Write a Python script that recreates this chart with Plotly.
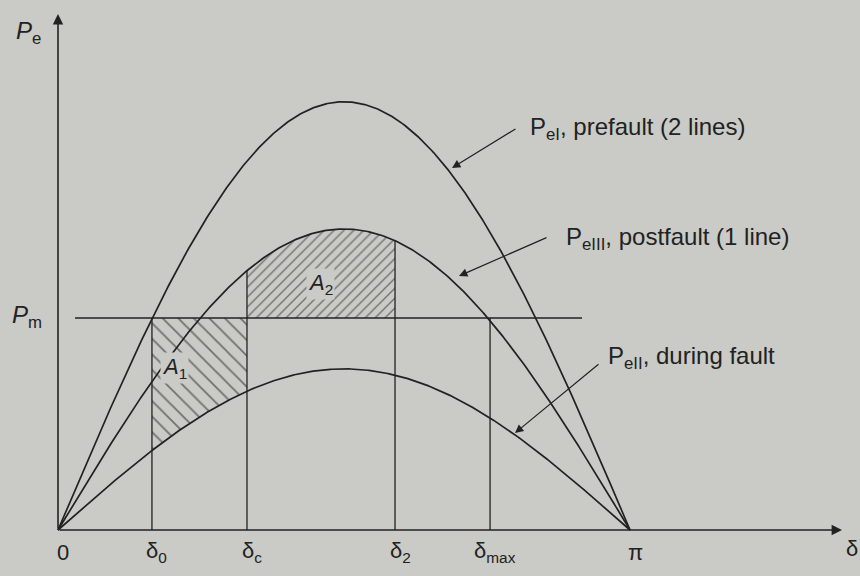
import numpy as np
import plotly.graph_objects as go

# Power-angle curves: P = Pmax * sin(delta)
curve_names = ["prefault", "postfault", "during fault"]
curve_pmax = [2.02, 1.42, 0.76]          # P_eI, P_eIII, P_eII (per unit of Pm)
p_mech = 1.0                              # mechanical input P_m

# Characteristic angles on the delta axis (rad)
tick_names = ["0", "δ<sub>0</sub>", "δ<sub>c</sub>", "δ<sub>2</sub>", "δ<sub>max</sub>", "π"]
tick_values = [0.0, 0.516, 1.038, 1.851, 2.373, np.pi]

# Curve label texts
label_texts = [
    "P<sub>eI</sub>, prefault (2 lines)",
    "P<sub>eIII</sub>, postfault (1 line)",
    "P<sub>eII</sub>, during fault",
]

# ---- drawing constants (pixel frame of the 860x576 page) ----
W, H = 860, 576
X0, Y0 = 58, 530            # pixel of the origin
SX = 572 / np.pi            # px per radian
SY = 212                    # px per unit power
INK = "#222222"
PAPER = "#cacac6"
FONT = "Liberation Sans"


def dx(px):
    return (px - X0) / SX


def dy(py):
    return (Y0 - py) / SY


p_ei, p_eiii, p_eii = curve_pmax
d0, dc, d2, dmax = tick_values[1:5]

fig = go.Figure()

# hatched area A1 (accelerating): between Pm and the fault curve, delta0..deltac
seg = np.linspace(d0, dc, 60)
a1_x = np.concatenate([[d0, dc], seg[::-1]])
a1_y = np.concatenate([[p_mech, p_mech], p_eii * np.sin(seg[::-1])])
fig.add_trace(go.Scatter(
    x=a1_x, y=a1_y, mode="lines", fill="toself", line=dict(width=0),
    fillcolor="rgba(0,0,0,0)",
    fillpattern=dict(shape="\\", size=11, solidity=0.17, fgcolor="#1a1a1a", bgcolor="rgba(0,0,0,0)"),
    hoverinfo="skip", showlegend=False))

# hatched area A2 (decelerating): between postfault curve and Pm, deltac..delta2
seg = np.linspace(dc, d2, 80)
a2_x = np.concatenate([[dc], seg, [d2]])
a2_y = np.concatenate([[p_mech], p_eiii * np.sin(seg), [p_mech]])
fig.add_trace(go.Scatter(
    x=a2_x, y=a2_y, mode="lines", fill="toself", line=dict(width=0),
    fillcolor="rgba(0,0,0,0)",
    fillpattern=dict(shape="/", size=7, solidity=0.2, fgcolor="#1a1a1a", bgcolor="rgba(0,0,0,0)"),
    hoverinfo="skip", showlegend=False))

# the three power-angle curves
delta = np.linspace(0, np.pi, 400)
for name, pmax in zip(curve_names, curve_pmax):
    fig.add_trace(go.Scatter(
        x=delta, y=pmax * np.sin(delta), mode="lines", name=name,
        line=dict(color=INK, width=1.7), hoverinfo="skip", showlegend=False))

# mechanical power line
fig.add_shape(type="line", x0=dx(75), x1=dx(582), y0=p_mech, y1=p_mech,
              line=dict(color=INK, width=1.4))

# vertical angle markers
marker_tops = [p_mech, p_eiii * np.sin(dc), p_eiii * np.sin(d2), p_mech]
for d, top in zip([d0, dc, d2, dmax], marker_tops):
    fig.add_shape(type="line", x0=d, x1=d, y0=0, y1=top,
                  line=dict(color=INK, width=1.3))

annotations = []

# axes with arrow heads
annotations.append(dict(x=0, y=dy(14), ax=0, ay=0, xref="x", yref="y", axref="x", ayref="y",
                        text="", showarrow=True, arrowhead=2, arrowsize=1.3, arrowwidth=1.6,
                        arrowcolor=INK))
annotations.append(dict(x=dx(842), y=0, ax=0, ay=0, xref="x", yref="y", axref="x", ayref="y",
                        text="", showarrow=True, arrowhead=2, arrowsize=1.3, arrowwidth=1.6,
                        arrowcolor=INK))

# axis titles
annotations.append(dict(x=dx(14), y=dy(32), xref="x", yref="y", text="<i>P</i><sub>e</sub>",
                        showarrow=False, xanchor="left", font=dict(family=FONT, size=24, color=INK)))
annotations.append(dict(x=dx(10), y=dy(316), xref="x", yref="y", text="<i>P</i><sub>m</sub>",
                        showarrow=False, xanchor="left", font=dict(family=FONT, size=24, color=INK)))
annotations.append(dict(x=dx(852), y=dy(548), xref="x", yref="y", text="δ",
                        showarrow=False, font=dict(family=FONT, size=22, color=INK)))

# delta-axis tick labels
for name, val in zip(tick_names, tick_values):
    annotations.append(dict(x=val + 5 / SX, y=dy(552), xref="x", yref="y",
                            text=name, showarrow=False,
                            font=dict(family=FONT, size=22, color=INK)))

# area labels
annotations.append(dict(x=dx(174), y=dy(368), xref="x", yref="y", text="<i>A</i><sub>1</sub>",
                        showarrow=False, bgcolor=PAPER,
                        font=dict(family=FONT, size=22, color=INK)))
annotations.append(dict(x=dx(320), y=dy(284), xref="x", yref="y", text="<i>A</i><sub>2</sub>",
                        showarrow=False, bgcolor=PAPER,
                        font=dict(family=FONT, size=22, color=INK)))

# curve labels with pointer arrows
label_pos = [(528, 128), (564, 238), (606, 357)]
arrow_tail = [(517, 128), (548, 237), (600, 363)]
arrow_head = [(452, 168), (459, 276), (515, 433)]
for text, (lx, ly), (tx, ty), (hx, hy) in zip(label_texts, label_pos, arrow_tail, arrow_head):
    annotations.append(dict(x=dx(lx), y=dy(ly), xref="x", yref="y", text=text,
                            showarrow=False, xanchor="left",
                            font=dict(family=FONT, size=24, color=INK)))
    annotations.append(dict(x=dx(hx), y=dy(hy), ax=dx(tx), ay=dy(ty),
                            xref="x", yref="y", axref="x", ayref="y", text="",
                            showarrow=True, arrowhead=2, arrowsize=1.4, arrowwidth=1.2,
                            arrowcolor=INK))

fig.update_layout(
    width=W, height=H,
    margin=dict(l=0, r=0, t=0, b=0),
    paper_bgcolor=PAPER, plot_bgcolor=PAPER,
    xaxis=dict(range=[dx(0), dx(W)], visible=False, fixedrange=True),
    yaxis=dict(range=[dy(H), dy(0)], visible=False, fixedrange=True),
    annotations=annotations,
    showlegend=False,
)

fig.write_html("out.html")
